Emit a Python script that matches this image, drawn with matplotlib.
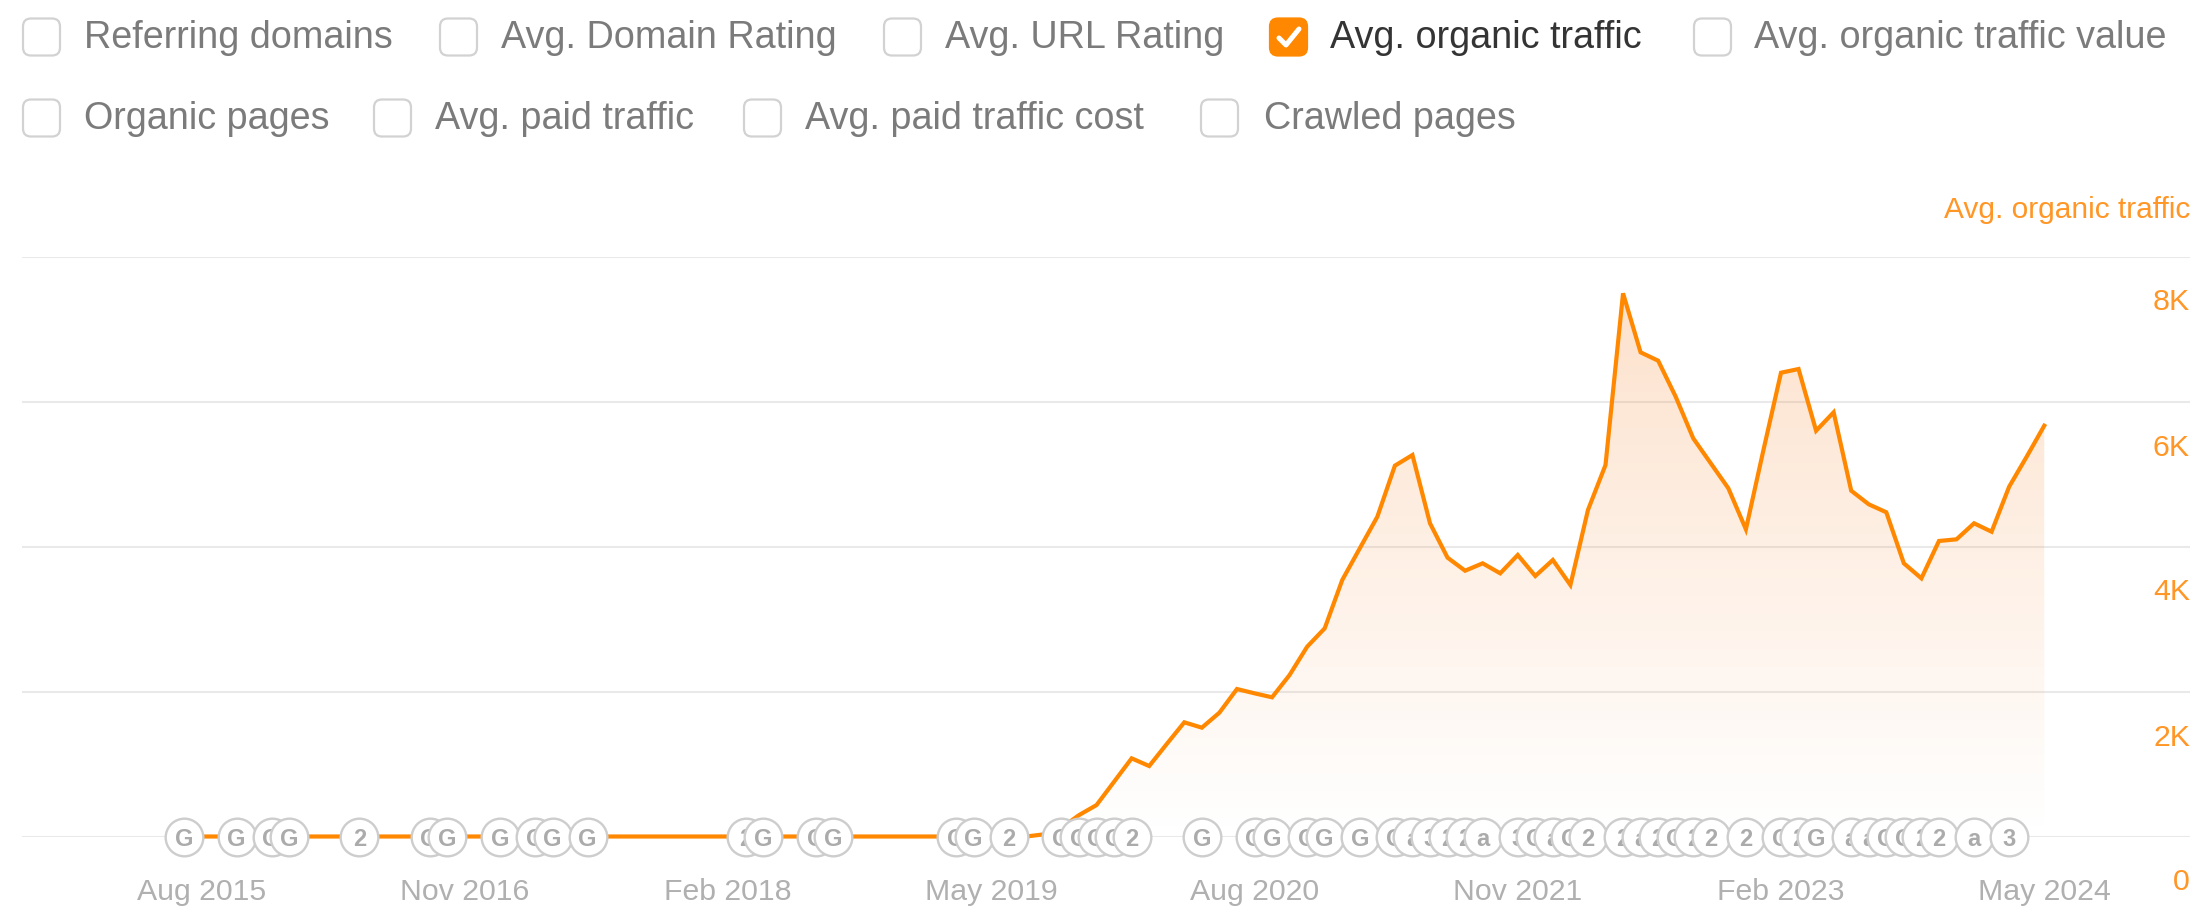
import numpy as np
import matplotlib
matplotlib.use('Agg')
import matplotlib.pyplot as plt
from matplotlib.patches import FancyBboxPatch, PathPatch
from matplotlib.path import Path
from matplotlib.transforms import ScaledTranslation

W, H = 2208, 915
ORANGE = '#ff8800'
LABEL_ORANGE = '#ff9626'
GRID = '#e9e9e9'

# avg organic traffic per month, Aug 2015 -> May 2024
traffic = [0] * 48 + [
    30, 120, 295, 434, 756, 1078, 972, 1276, 1575, 1501, 1708, 2034,
    1975, 1920, 2228, 2618, 2871, 3538, 3975, 4411, 5115, 5262, 4320, 3846,
    3666, 3768, 3630, 3883, 3593, 3814, 3469, 4503, 5124, 7492, 6678, 6563,
    6066, 5492, 5147, 4803, 4237, 5331, 6397, 6448, 5597, 5851, 4770, 4582,
    4472, 3768, 3561, 4076, 4099, 4320, 4204, 4825, 5239, 5666,
]
month_ticks = [0, 15, 30, 45, 60, 75, 90, 105]
month_labels = ['Aug 2015', 'Nov 2016', 'Feb 2018', 'May 2019',
                'Aug 2020', 'Nov 2021', 'Feb 2023', 'May 2024']
y_ticks = [0, 2000, 4000, 6000, 8000]
y_labels = ['0', '2K', '4K', '6K', '8K']

# update markers along the baseline
event_months = [-1, 2, 4, 5, 9, 13, 14, 17, 19, 20, 22, 31, 32, 35, 36, 43, 44, 46,
                49, 50, 51, 52, 53, 57, 60, 61, 63, 64, 66, 68, 69, 70, 71, 72, 73,
                75, 76, 77, 78, 79, 81, 82, 83, 84, 85, 86, 88, 90, 91, 92, 94, 95,
                96, 97, 98, 99, 101, 103]
event_labels = ['G', 'G', 'G', 'G', '2', 'G', 'G', 'G', 'G', 'G', 'G', '2', 'G', 'G', 'G', 'G', 'G', '2',
                'G', 'G', 'G', 'G', '2', 'G', 'G', 'G', 'G', 'G', 'G', 'G', 'a', '3', '2', '2',
                'a', '3', 'G', 'a', 'G', '2', '2', 'a', '2', 'G', '2', '2', '2', 'G', '2', 'G',
                'a', 'a', 'G', 'G', '2', '2', 'a', '3']

# (label, box left, text left, row centre), all in pixels
row1 = [('Referring domains', 23, 84), ('Avg. Domain Rating', 440, 501),
        ('Avg. URL Rating', 884, 945), ('Avg. organic traffic', 1270, 1330),
        ('Avg. organic traffic value', 1694, 1754)]
row2 = [('Organic pages', 23, 84), ('Avg. paid traffic', 374, 435),
        ('Avg. paid traffic cost', 744, 805), ('Crawled pages', 1201, 1264)]
ACTIVE = 'Avg. organic traffic'

plt.rcParams['font.family'] = ['Liberation Sans', 'DejaVu Sans']

fig = plt.figure(figsize=(W / 100, H / 100), dpi=100)

# pixel-space layer for the checkbox row
ui = fig.add_axes([0, 0, 1, 1])
ui.set_xlim(0, W)
ui.set_ylim(H, 0)
ui.axis('off')


def draw_option(label, box_x, text_x, y):
    on = label == ACTIVE
    box = FancyBboxPatch((box_x + 6, y - 12.5), 25, 25, boxstyle='round,pad=6,rounding_size=8',
                         facecolor=ORANGE if on else 'white',
                         edgecolor=ORANGE if on else '#d2d2d2', linewidth=1.6)
    ui.add_patch(box)
    if on:
        ui.plot([box_x + 9, box_x + 16, box_x + 29], [y + 1, y + 8, y - 8], color='white',
                lw=3.6, solid_capstyle='round', solid_joinstyle='round')
    ui.text(text_x, y + 1, label, fontsize=27.2, va='center', ha='left',
            color='#343434' if on else '#7b7b7b')


for label, box_x, text_x in row1:
    draw_option(label, box_x, text_x, 37)
for label, box_x, text_x in row2:
    draw_option(label, box_x, text_x, 118)

ui.text(2190, 210, 'Avg. organic traffic', fontsize=21.5, color=LABEL_ORANGE, ha='right', va='center')

# chart axes: left/right edges are the gridline ends, top gridline is 8K
left, right, top, bottom = 22, 2190, 256.5, 836.5
ax = fig.add_axes([left / W, 1 - bottom / H, (right - left) / W, (bottom - top) / H])
ax.patch.set_alpha(0)
x0, dx = 201.5, 17.55
ax.set_xlim((left - x0) / dx, (right - x0) / dx)
ax.set_ylim(0, 8000)
for s in ax.spines.values():
    s.set_visible(False)

months = np.arange(len(traffic))
ax.set_axisbelow(True)
ax.yaxis.grid(True, color=GRID, lw=1.5)
ax.xaxis.grid(False)

# fill fades out towards the baseline
gradient = np.zeros((256, 2, 4))
gradient[..., 0] = 0.97
gradient[..., 1] = 0.52
gradient[..., 2] = 0.17
gradient[..., 3] = np.linspace(0.24, 0.0, 256)[:, None]
img = ax.imshow(gradient, extent=[0, months[-1], 0, max(traffic)], aspect='auto',
                origin='upper', zorder=1.5, interpolation='bilinear')
verts = [(0, 0)] + list(zip(months, traffic)) + [(months[-1], 0), (0, 0)]
clip = PathPatch(Path(verts), transform=ax.transData, facecolor='none', edgecolor='none')
ax.add_patch(clip)
img.set_clip_path(clip)
ax.set_xlim((left - x0) / dx, (right - x0) / dx)
ax.set_ylim(0, 8000)

ax.plot(months, traffic, color=ORANGE, lw=3.0, solid_joinstyle='miter', zorder=3, clip_on=False)

for i, (m, lab) in enumerate(zip(event_months, event_labels)):
    z = 10 + 2 * i
    ax.scatter([m], [0], s=735, facecolor='white', edgecolor='#cdcdcd', linewidth=1.7,
               zorder=z, clip_on=False)
    ax.text(m, 0, lab, fontsize=17, fontweight='bold', color='#ababab', ha='center',
            va='center_baseline', zorder=z + 1, clip_on=False)

ax.set_xticks(month_ticks)
ax.set_xticklabels(month_labels)
ax.tick_params(axis='x', length=0, pad=30, labelsize=21.8, labelcolor='#b0b0b0')

ax.yaxis.tick_right()
ax.set_yticks(y_ticks)
ax.set_yticklabels(y_labels)
ax.tick_params(axis='y', length=0, pad=0, labelsize=21.8, labelcolor=LABEL_ORANGE)
shift = ScaledTranslation(0, -43 / 100, fig.dpi_scale_trans)
for t in ax.get_yticklabels():
    t.set_ha('right')
    t.set_transform(t.get_transform() + shift)

fig.savefig('out.png', dpi=100, facecolor='white')
